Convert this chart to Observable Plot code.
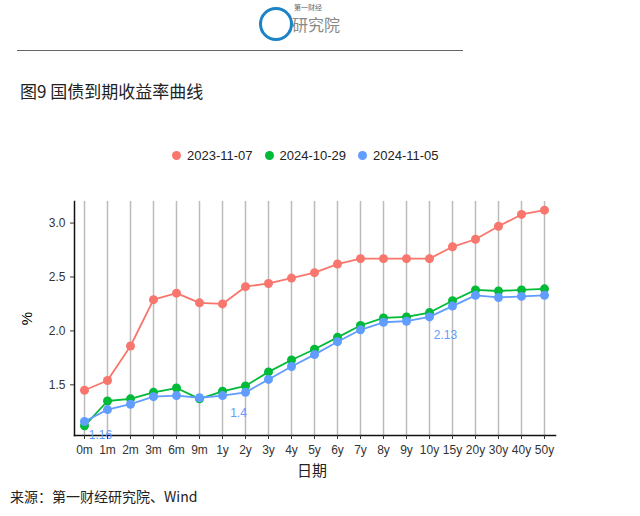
<!DOCTYPE html>
<html><head><meta charset="utf-8">
<script src="https://cdn.jsdelivr.net/npm/d3@7"></script>
<script src="https://cdn.jsdelivr.net/npm/@observablehq/plot@0.6"></script>
<style>
body{margin:0;width:640px;height:516px;position:relative;background:#fff;font-family:"Noto Sans CJK SC",Arial,sans-serif;overflow:hidden}
.a{position:absolute}
</style></head><body>
<div class="a" style="left:259px;top:7px;width:34px;height:34px;border-radius:50%;border:3px solid #1a84c7;box-sizing:border-box"></div>
<div class="a" style="left:294px;top:3px;font-size:7px;line-height:8px;color:#666">第一财经</div>
<div class="a" style="left:292px;top:14px;font-size:16px;color:#888;line-height:20px">研究院</div>
<div class="a" style="left:17px;top:50px;width:446px;height:1px;background:#666"></div>
<div class="a" style="left:20px;top:78px;font-size:17px;color:#222">图9 国债到期收益率曲线</div>
<div id="leg" class="a" style="left:172px;top:148px;font-family:Arial,'Liberation Sans',sans-serif;font-size:13px;color:#222;display:flex;gap:12px"></div>
<div class="a" style="left:10px;top:486px;font-size:14px;color:#222">来源：第一财经研究院、Wind</div>
<div id="chart" class="a" style="left:0;top:185px"></div>
<script>
const tenors=["0m","1m","2m","3m","6m","9m","1y","2y","3y","4y","5y","6y","7y","8y","9y","10y","15y","20y","30y","40y","50y"];
const seriesNames=["2023-11-07","2024-10-29","2024-11-05"];
const colors=["#f8766d","#00ba38","#619cff"];
const s2023=[1.45,1.54,1.86,2.29,2.35,2.26,2.25,2.41,2.44,2.49,2.54,2.62,2.67,2.67,2.67,2.67,2.78,2.85,2.97,3.08,3.12];
const s1029=[1.12,1.35,1.37,1.43,1.47,1.37,1.44,1.49,1.62,1.73,1.83,1.94,2.05,2.12,2.13,2.17,2.28,2.38,2.37,2.38,2.39];
const s1105=[1.16,1.27,1.32,1.39,1.40,1.38,1.40,1.43,1.55,1.67,1.78,1.90,2.01,2.08,2.09,2.13,2.23,2.33,2.31,2.32,2.33];
const labelled=["1y","10y"];
const vals=[s2023,s1029,s1105];
const data=[];
vals.forEach((v,i)=>v.forEach((y,j)=>data.push({t:tenors[j],y,s:seriesNames[i]})));
const blue=data.filter(d=>d.s==="2024-11-05");
const labs=blue.filter(d=>labelled.includes(d.t));
const lab0=blue.filter(d=>d.t==="0m");
const leg=document.getElementById("leg");
seriesNames.forEach((n,i)=>{leg.innerHTML+=`<span style="display:flex;align-items:center;gap:6px"><span style="width:9px;height:9px;border-radius:50%;background:${colors[i]}"></span>${n}</span>`});
const chart=Plot.plot({
  width:640,height:300,marginTop:16,marginBottom:50,marginLeft:74,marginRight:85,
  style:{fontFamily:"Arial,'Liberation Sans',sans-serif",fontSize:"12px",color:"#333"},
  x:{type:"point",domain:tenors,range:[81,547],padding:0,label:null,tickSize:4},
  y:{domain:[1.03,3.2],label:null},
  color:{domain:seriesNames,range:colors},
  marks:[
    Plot.ruleX(tenors,{stroke:"#bbb",strokeWidth:1.5,strokeOpacity:1}),
    Plot.frame({anchor:"left",stroke:"#111",strokeWidth:1.5}),
    Plot.frame({anchor:"bottom",stroke:"#111",strokeWidth:1.5}),
    Plot.line(data,{x:"t",y:"y",stroke:"s",strokeWidth:1.8}),
    Plot.dot(data,{x:"t",y:"y",fill:"s",r:4.5}),
    Plot.text(labs,{x:"t",y:"y",text:d=>String(d.y),fill:"#619cff",dx:16,dy:18,fontSize:12}),
    Plot.text(lab0,{x:"t",y:"y",text:d=>String(d.y),fill:"#619cff",dx:16,dy:14,fontSize:12}),
    Plot.axisX({tickSize:4,label:null,fontSize:12,tickPadding:6}),
    Plot.axisY({tickSize:4,ticks:[1.5,2.0,2.5,3.0],tickFormat:d3.format(".1f"),label:null,fontSize:12})
  ]
});
document.getElementById("chart").appendChild(chart);
</script>
<div class="a" style="left:20px;top:310px;font-size:15px;transform:rotate(-90deg);font-family:Arial,sans-serif">%</div>
<div class="a" style="left:297px;top:459px;font-size:15px;color:#222">日期</div>
</body></html>
